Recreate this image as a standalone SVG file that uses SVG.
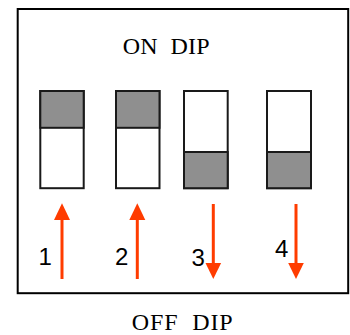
<svg xmlns="http://www.w3.org/2000/svg" width="350" height="335" viewBox="0 0 350 335">
<style>
.frame{fill:#fff;stroke:#000;stroke-width:2}
.sw{fill:#fff;stroke:#1a1a1a;stroke-width:2}
.on{fill:#8f8f8f;stroke:#1a1a1a;stroke-width:2}
.title{font-family:"Liberation Serif","Times New Roman",serif;font-size:24px;fill:#000;white-space:pre}
.num{font-family:"Liberation Sans",Arial,sans-serif;font-size:24px;fill:#000}
.arr{stroke:#ff3c00;stroke-width:3;fill:none}
.head{fill:#ff3c00}
</style>
<rect width="350" height="335" fill="#fff"/>
<rect id="frame" class="frame" x="17.7" y="9" width="330.5" height="284.2"/>
<text id="on-label" class="title" x="122.7" y="53.5" textLength="87" xml:space="preserve">ON  DIP</text>
<text id="off-label" class="title" x="131.7" y="329.6" textLength="101" xml:space="preserve">OFF  DIP</text>
<g id="switch1">
<rect class="sw" x="40.3" y="91" width="43.4" height="97.2"/>
<rect class="on" x="40.3" y="91" width="43.4" height="36.8"/>
</g>
<g id="switch2">
<rect class="sw" x="116" y="91" width="43.5" height="97.2"/>
<rect class="on" x="116" y="91" width="43.5" height="36.8"/>
</g>
<g id="switch3">
<rect class="sw" x="184" y="91" width="43.7" height="97.2"/>
<rect class="on" x="184" y="152" width="43.7" height="36.2"/>
</g>
<g id="switch4">
<rect class="sw" x="267" y="91" width="44" height="97.2"/>
<rect class="on" x="267" y="152" width="44" height="36.2"/>
</g>
<g id="connectors">
<line class="arr" x1="62" y1="218" x2="62" y2="279"/>
<polygon class="head" points="62,203.3 54,220 70,220"/>
<line class="arr" x1="137.3" y1="218" x2="137.3" y2="279"/>
<polygon class="head" points="137.3,203.3 129.3,220 145.3,220"/>
<line class="arr" x1="213.3" y1="204" x2="213.3" y2="265"/>
<polygon class="head" points="213.3,279 205.5,263 221.1,263"/>
<line class="arr" x1="296" y1="204" x2="296" y2="265"/>
<polygon class="head" points="296,279 288.2,263 303.8,263"/>
</g>
<g id="labels">
<text class="num" x="45.2" y="265" text-anchor="middle">1</text>
<text class="num" x="121.7" y="265" text-anchor="middle">2</text>
<text class="num" x="198.3" y="265.5" text-anchor="middle">3</text>
<text class="num" x="281.7" y="257" text-anchor="middle">4</text>
</g>
</svg>
